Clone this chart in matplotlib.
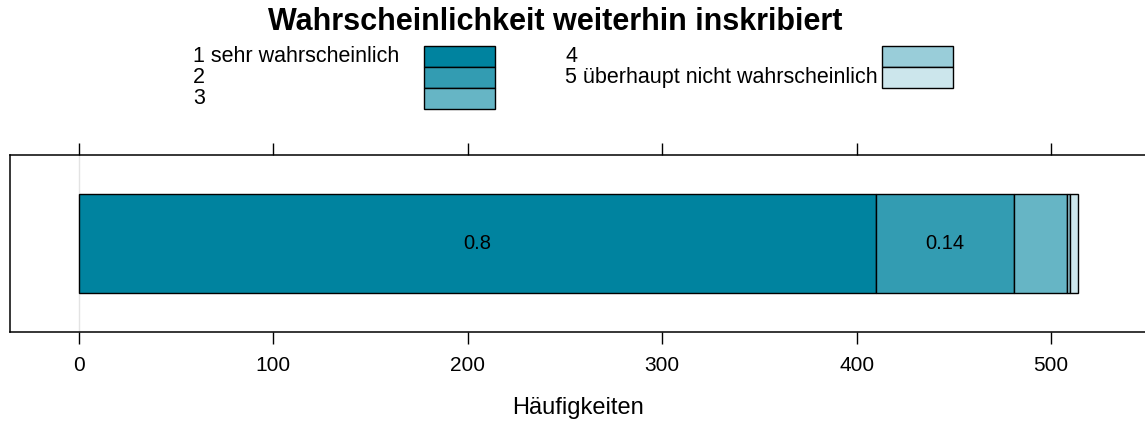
import matplotlib
matplotlib.use("Agg")
import matplotlib.pyplot as plt
from matplotlib.patches import Rectangle

plt.rcParams["font.family"] = ["Liberation Sans", "DejaVu Sans"]

# data
title = "Wahrscheinlichkeit weiterhin inskribiert"
categories = ["1 sehr wahrscheinlich", "2", "3", "4", "5 überhaupt nicht wahrscheinlich"]
counts = [410, 71, 27, 2, 4]
colors = ["#00839F", "#339CB2", "#66B5C5", "#99CDD9", "#CCE6EC"]
xticks = [0, 100, 200, 300, 400, 500]
xlabel = "Häufigkeiten"

W, H = 1145, 423
fig = plt.figure(figsize=(W / 100, H / 100), dpi=100)


def fx(px):
    return px / W


def fy(py):
    return 1 - py / H


# axes: left spine at px 10, top 155, bottom 332; right side runs off the figure
x0, x1 = -35.5, 560
scale = 972 / 500  # px per unit
ax = fig.add_axes([fx(10), fy(332), fx((x1 - x0) * scale), (332 - 155) / H])
ax.set_xlim(x0, x1)
ax.set_ylim(0, 1)
ax.axvline(0, color="#e3e3e3", lw=1, zorder=0)

total = sum(counts)
left = 0
for c, col in zip(counts, colors):
    ax.barh(0.5, c, left=left, height=0.56, color=col, edgecolor="black", lw=1, zorder=2)
    p = c / total
    if p > 0.1:
        ax.text(left + c / 2, 0.5, f"{round(p, 2):g}", ha="center", va="center",
                fontsize=14.5, zorder=3)
    left += c

ax.set_xticks(xticks)
ax.set_yticks([])
ax.tick_params(axis="x", which="both", top=True, bottom=True, labeltop=False,
               direction="out", length=8.5, width=1, labelsize=15, pad=9)
for s in ax.spines.values():
    s.set_linewidth(1.1)

fig.text(fx(578), fy(408), xlabel, ha="center", va="center", fontsize=17)
fig.text(fx(555), fy(22), title, ha="center", va="center", fontsize=22, weight="bold")

# legend, drawn R-style: label left, wide swatch on the right
lab_x = [193, 565]
box_x = [424, 882]
for i, (cat, col) in enumerate(zip(categories, colors)):
    c = 0 if i < 3 else 1
    r = i if i < 3 else i - 3
    top = 46 + 21 * r
    fig.text(fx(lab_x[c]), fy(top + 10.5), cat, ha="left", va="center", fontsize=15.5)
    fig.patches.append(Rectangle((fx(box_x[c]), fy(top + 21)), fx(71), 21 / H,
                                 transform=fig.transFigure, facecolor=col,
                                 edgecolor="black", lw=1))

fig.savefig("out.png", dpi=100)
